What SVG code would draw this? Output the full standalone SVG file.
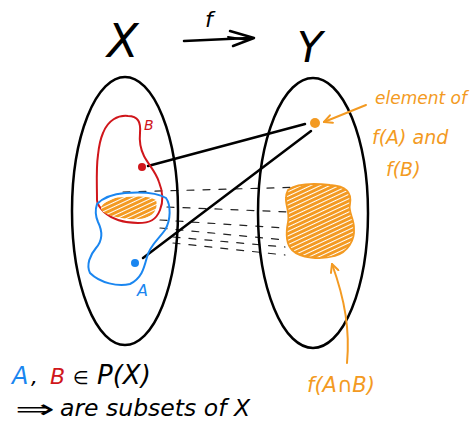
<svg xmlns="http://www.w3.org/2000/svg" width="473" height="423" viewBox="0 0 473 423">
<defs>
<style>
.hand{font-family:"DejaVu Sans","Liberation Sans",sans-serif;font-style:italic}
.blk{fill:none;stroke:#000;stroke-width:2.5;stroke-linecap:round;stroke-linejoin:round}
.dash{fill:none;stroke:#222;stroke-width:1.2;stroke-dasharray:7 9;stroke-linecap:round}
.org{fill:#f39a22}
.orgs{fill:none;stroke:#f39a22;stroke-width:2;stroke-linecap:round}
</style>
<pattern id="hatch" width="4" height="4" patternUnits="userSpaceOnUse" patternTransform="rotate(-25)">
<rect width="4" height="4" fill="#fff"/>
<rect width="4" height="3" fill="#f39a22"/>
</pattern>
<marker id="oarr" viewBox="0 0 10 10" refX="9" refY="5" markerWidth="5" markerHeight="5" orient="auto">
<path d="M1,1 L9,5 L1,9" fill="none" stroke="#f39a22" stroke-width="2" stroke-linecap="round" stroke-linejoin="round"/>
</marker>
</defs>
<rect width="473" height="423" fill="#fff"/>

<g id="connectors">
<path class="dash" d="M123,192 L307,187"/>
<path class="dash" d="M167,207 L290,212"/>
<path class="dash" d="M160,220 L285,228"/>
<path class="dash" d="M160,228 L285,240"/>
<path class="dash" d="M173,237 L285,247"/>
<path class="dash" d="M173,243 L285,255"/>
<path class="blk" d="M148,166 L305,124"/>
<path class="blk" d="M143,258 L311,131"/>
</g>

<g id="map-f">
<text class="hand" x="205" y="27" font-size="22">f</text>
<path d="M184,41 L249,38" fill="none" stroke="#000" stroke-width="2.5" stroke-linecap="round"/>
<path d="M230,31 L254,38 L233,46" fill="none" stroke="#000" stroke-width="2.5" stroke-linecap="round" stroke-linejoin="round"/>
<path d="M228,37 L248,40" fill="none" stroke="#000" stroke-width="2" stroke-linecap="round"/>
</g>

<g id="set-X">
<text class="hand" x="107" y="57" font-size="46">X</text>
<ellipse class="blk" cx="125" cy="211" rx="53" ry="134"/>
</g>

<g id="set-Y">
<text class="hand" x="297" y="62" font-size="42">Y</text>
<ellipse class="blk" cx="313" cy="213" rx="55" ry="135"/>
</g>

<g id="set-B">
<path d="M103,133 C108,120 118,115 128,116 C138,116 141,122 140,133 C139,143 141,150 144,156 C148,164 156,172 159,182 C163,192 164,200 160,210 C156,220 150,223 138,223 C124,223 113,220 104,212 C99,207 97,204 97,200 C97,185 96,168 98,155 C99,145 100,140 103,133 Z" fill="none" stroke="#d0161b" stroke-width="2"/>
<circle cx="142" cy="167" r="4" fill="#d0161b"/>
<text class="hand" x="144" y="130" font-size="14" fill="#d0161b">B</text>
</g>

<g id="set-A">
<path d="M97,204 C104,197 112,194 125,193 C140,192 158,193 166,198 C171,205 171,220 165,230 C158,240 150,245 147,257 C144,268 142,278 130,284 C118,287 100,283 90,273 C86,265 90,255 96,248 C103,240 103,232 98,222 C95,215 95,210 97,204 Z" fill="none" stroke="#1a86f0" stroke-width="2"/>
<circle cx="135" cy="263" r="4" fill="#1a86f0"/>
<text class="hand" x="137" y="296" font-size="16" fill="#1a86f0">A</text>
</g>

<g id="A-cap-B">
<path d="M101,207 C106,200 115,197 125,197 C138,196 150,196 156,200 C158,207 155,214 148,217 C138,221 124,219 112,216 C105,214 100,211 101,207 Z" fill="url(#hatch)"/>
</g>

<g id="element">
<circle cx="315" cy="123" r="5" class="org"/>
<path class="orgs" d="M366,105 L324,122" marker-end="url(#oarr)"/>
<text class="hand" x="375" y="104" font-size="17" fill="#f39a22">element of</text>
<text class="hand" x="372" y="144" font-size="19" fill="#f39a22">f(A)  and</text>
<text class="hand" x="386" y="176" font-size="19" fill="#f39a22">f(B)</text>
</g>

<g id="image-A-cap-B">
<path d="M288,190 C296,184 312,183 330,185 C346,186 352,192 350,204 C348,212 354,218 354,228 C355,240 348,252 335,256 C320,260 300,258 292,250 C285,243 286,232 288,222 C290,212 285,204 286,198 C286,195 287,192 288,190 Z" fill="url(#hatch)" stroke="#f39a22" stroke-width="1.8"/>
<path class="orgs" d="M347,363 C350,330 345,300 332,264" marker-end="url(#oarr)"/>
<text class="hand" x="307" y="392" font-size="21" fill="#f39a22">f(A∩B)</text>
</g>

<g id="notes">
<text class="hand" x="12" y="384" font-size="24" fill="#1a86f0">A</text>
<text class="hand" x="31" y="384" font-size="22" fill="#000">,</text>
<text class="hand" x="50" y="384" font-size="22" fill="#d0161b">B</text>
<text class="hand" x="73" y="384" font-size="18" fill="#000">∈</text>
<text class="hand" x="97" y="384" font-size="26" fill="#000">P(X)</text>
<text x="15" y="418" font-family="DejaVu Sans, sans-serif" font-size="26" fill="#000" textLength="40" lengthAdjust="spacingAndGlyphs">⇒</text>
<text class="hand" x="60" y="416" font-size="23" fill="#000" textLength="190" lengthAdjust="spacingAndGlyphs">are subsets of X</text>
</g>
</svg>
